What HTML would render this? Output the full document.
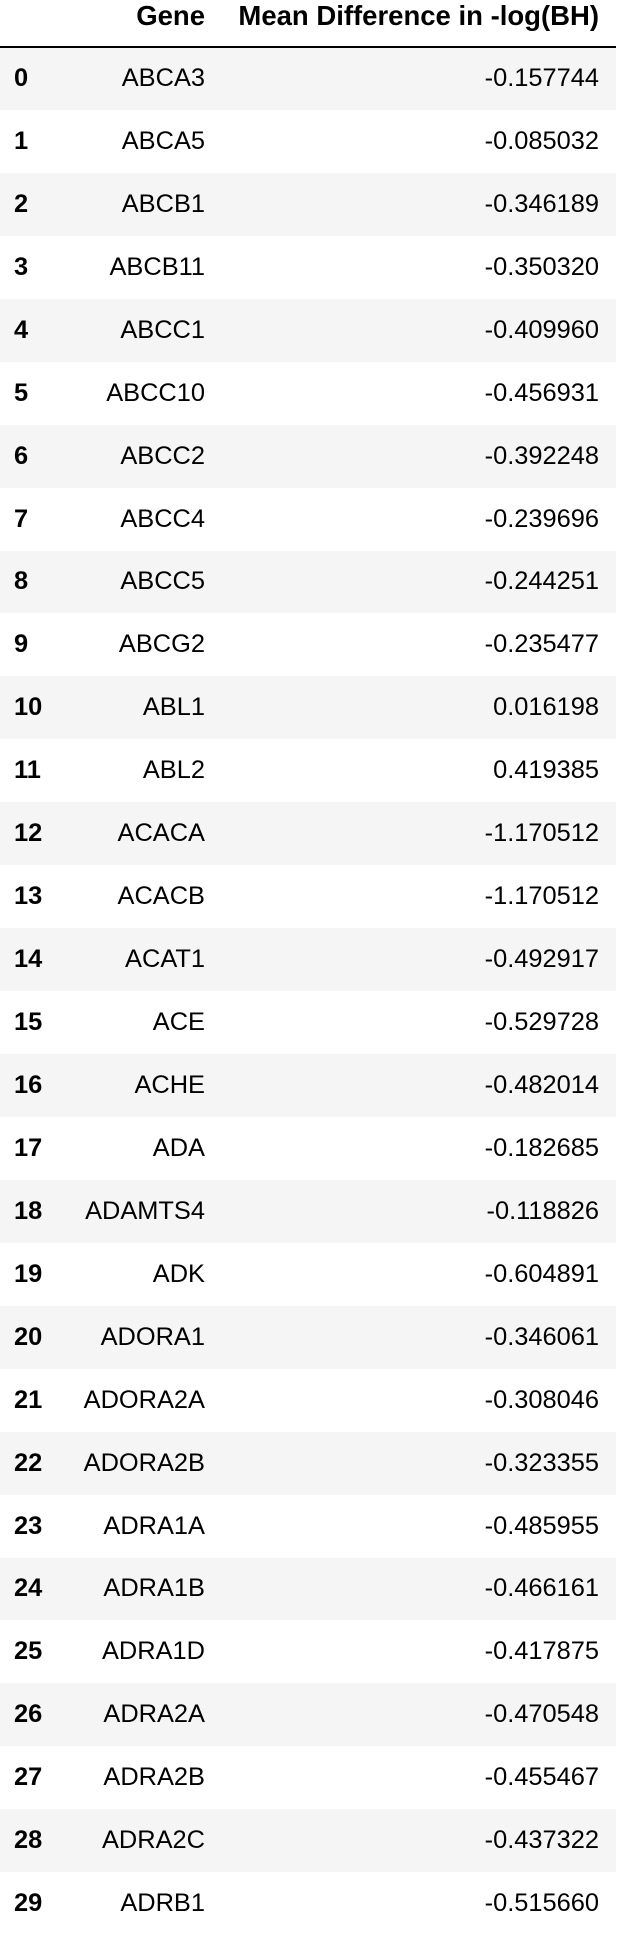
<!DOCTYPE html>
<html><head><meta charset="utf-8">
<style>
html,body{margin:0;padding:0;background:#fff;}
body{width:618px;height:1886px;overflow:hidden;font-family:"Liberation Sans",Arial,sans-serif;color:#000;}
table{border-collapse:collapse;table-layout:fixed;width:616px;font-size:25.4px;}
th,td{padding:0;white-space:nowrap;}
thead th{height:45px;vertical-align:top;font-weight:bold;text-align:right;padding-top:1px;border-bottom:2px solid #000;font-size:27.5px;line-height:30px;}
tbody tr{height:62.95px;}
tbody tr:nth-child(odd){background:#f5f5f5;}
td.idx{font-weight:bold;text-align:left;padding-left:14px;}
td.gene{text-align:right;padding-right:3px;}
td.val{text-align:right;padding-right:17px;}
</style></head>
<body>
<table>
<colgroup><col style="width:60px"><col style="width:148px"><col style="width:408px"></colgroup>
<thead><tr>
<th></th>
<th style="padding-right:3px">Gene</th>
<th style="padding-right:17px">Mean Difference in -log(BH)</th>
</tr></thead>
<tbody id="tb"></tbody>
</table>
<script>
const genes=["ABCA3","ABCA5","ABCB1","ABCB11","ABCC1","ABCC10","ABCC2","ABCC4","ABCC5","ABCG2","ABL1","ABL2","ACACA","ACACB","ACAT1","ACE","ACHE","ADA","ADAMTS4","ADK","ADORA1","ADORA2A","ADORA2B","ADRA1A","ADRA1B","ADRA1D","ADRA2A","ADRA2B","ADRA2C","ADRB1"];
const values=["-0.157744","-0.085032","-0.346189","-0.350320","-0.409960","-0.456931","-0.392248","-0.239696","-0.244251","-0.235477","0.016198","0.419385","-1.170512","-1.170512","-0.492917","-0.529728","-0.482014","-0.182685","-0.118826","-0.604891","-0.346061","-0.308046","-0.323355","-0.485955","-0.466161","-0.417875","-0.470548","-0.455467","-0.437322","-0.515660"];
const tb=document.getElementById('tb');
genes.forEach((g,i)=>{
  const tr=document.createElement('tr');
  
  
  const a=document.createElement('td');a.className='idx';a.textContent=i;
  
  
  const b=document.createElement('td');b.className='gene';b.textContent=g;
  
  
  const c=document.createElement('td');c.className='val';c.textContent=values[i];
  
  
  tr.append(a,b,c);tb.appendChild(tr);
});
</script>
</body></html>
